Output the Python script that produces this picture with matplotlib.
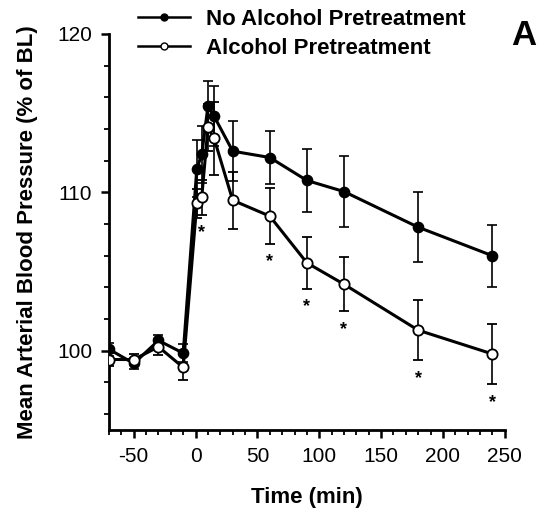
import matplotlib
matplotlib.use("Agg")
import matplotlib.pyplot as plt
from matplotlib.lines import Line2D
from matplotlib.ticker import MultipleLocator

plt.rcParams['font.family'] = ['Liberation Sans', 'DejaVu Sans']
plt.rcParams['axes.unicode_minus'] = False

time = [-70, -50, -30, -10, 1, 5, 10, 15, 30, 60, 90, 120, 180, 240]
no_alc = [100.1, 99.2, 100.65, 99.85, 111.5, 112.4, 115.45, 114.8, 112.6, 112.2, 110.75, 110.05, 107.8, 106.0]
no_alc_se = [0.4, 0.35, 0.35, 0.55, 1.8, 1.8, 1.6, 1.9, 1.9, 1.7, 2.0, 2.25, 2.2, 1.95]
alc = [99.45, 99.45, 100.25, 98.95, 109.3, 109.7, 114.1, 113.4, 109.5, 108.5, 105.55, 104.2, 101.3, 99.8]
alc_se = [0.4, 0.35, 0.5, 0.8, 0.9, 1.1, 1.5, 2.3, 1.8, 1.75, 1.65, 1.7, 1.9, 1.9]
sig_times = [5, 60, 90, 120, 180, 240]

fig = plt.figure(figsize=(5.37, 5.14), dpi=100)
ax = fig.add_axes([0.203, 0.1634, 0.737, 0.7706])

ax.errorbar(time, no_alc, yerr=no_alc_se, color='black', lw=2.2, marker='o',
            ms=7.4, mfc='black', mec='black', ecolor='black', elinewidth=1.2,
            capsize=3.6, capthick=1.2, zorder=3)
ax.errorbar(time, alc, yerr=alc_se, color='black', lw=2.2, marker='o',
            ms=7.4, mfc='white', mec='black', mew=1.3, ecolor='black',
            elinewidth=1.2, capsize=3.6, capthick=1.2, zorder=4)

for t in sig_times:
    i = time.index(t)
    ax.annotate('*', (t, alc[i] - alc_se[i]), xytext=(0, -13),
                textcoords='offset points', ha='center', va='center',
                fontsize=13, fontweight='bold')

ax.set_xlim(-70, 250)
ax.set_ylim(95, 120)
ax.xaxis.set_minor_locator(MultipleLocator(10))
ax.yaxis.set_major_locator(MultipleLocator(10))
ax.yaxis.set_minor_locator(MultipleLocator(2))
ax.set_xticks([-50, 0, 50, 100, 150, 200, 250])

for s in ['top', 'right']:
    ax.spines[s].set_visible(False)
for s in ['left', 'bottom']:
    ax.spines[s].set_linewidth(2)

ax.tick_params(which='major', direction='out', length=6, width=1.8, labelsize=15, pad=6)
ax.tick_params(which='minor', direction='out', length=3.5, width=1.3)

ax.set_xlabel('Time (min)', fontsize=16, fontweight='bold', labelpad=15)
ax.set_ylabel('Mean Arterial Blood Pressure (% of BL)', fontsize=16,
              fontweight='bold', labelpad=14)

handles = [
    Line2D([], [], color='black', lw=1.8, marker='o', ms=5, mfc='black', mec='black'),
    Line2D([], [], color='black', lw=1.8, marker='o', ms=5, mfc='white', mec='black'),
]
fig.legend(handles, ['No Alcohol Pretreatment', 'Alcohol Pretreatment'],
           loc='upper left', bbox_to_anchor=(0.257, 0.982), frameon=False,
           borderpad=0, borderaxespad=0, handlelength=2.36, handletextpad=0.7,
           labelspacing=0.34, prop={'size': 16, 'weight': 'bold'})

fig.text(0.998, 0.912, 'A', fontsize=25, fontweight='bold', ha='right', va='baseline')

fig.savefig('out.png', dpi=100)
